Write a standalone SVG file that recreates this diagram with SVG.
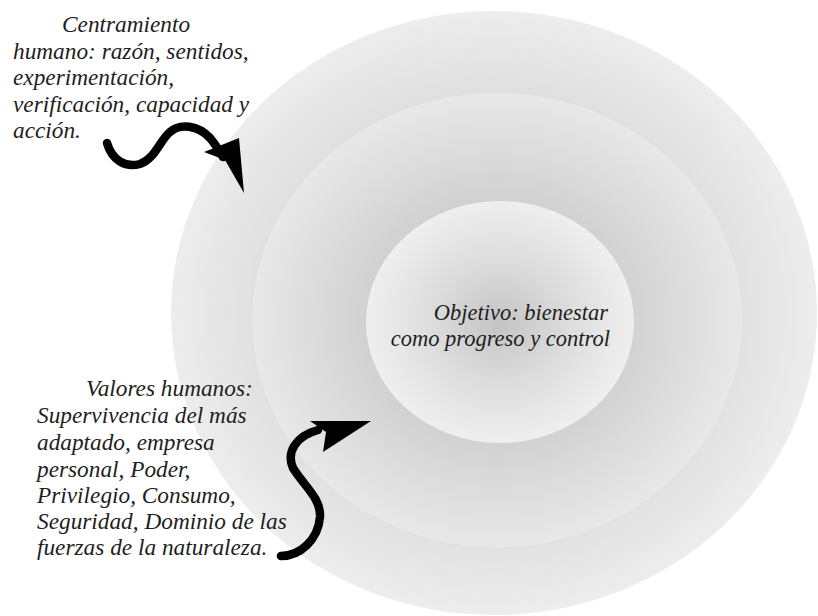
<svg xmlns="http://www.w3.org/2000/svg" width="818" height="616" viewBox="0 0 818 616">
<defs>
<radialGradient id="gOuter" cx="0.5" cy="0.5" r="0.5">
<stop offset="0" stop-color="#c8c8c8"/>
<stop offset="0.7" stop-color="#dedede"/>
<stop offset="1" stop-color="#ededed"/>
</radialGradient>
<radialGradient id="gMid" cx="0.5" cy="0.5" r="0.5">
<stop offset="0" stop-color="#bcbcbc"/>
<stop offset="0.55" stop-color="#d2d2d2"/>
<stop offset="1" stop-color="#e8e8e8"/>
</radialGradient>
<radialGradient id="gInner" cx="0.5" cy="0.5" r="0.5">
<stop offset="0" stop-color="#c4c4c4"/>
<stop offset="0.5" stop-color="#dcdcdc"/>
<stop offset="1" stop-color="#efefef"/>
</radialGradient>
</defs>
<style>
.arr{fill:none;stroke:#000;stroke-width:8.5;stroke-linecap:round;stroke-linejoin:round}
.head{fill:#000}
</style>
<rect width="818" height="616" fill="#ffffff"/>
<g id="outer"><ellipse cx="494" cy="313" rx="323" ry="302" fill="url(#gOuter)"/></g>
<g id="middle"><ellipse cx="497" cy="320" rx="245" ry="227" fill="url(#gMid)"/></g>
<g font-family="Liberation Serif, Times New Roman, serif" font-style="italic" font-size="23.3" fill="#1e1e1e">
<g id="inner">
<ellipse cx="500" cy="322" rx="134" ry="121" fill="url(#gInner)"/>
<text text-anchor="end" font-size="22.5"><tspan x="608" y="320">Objetivo: bienestar</tspan><tspan x="610" y="346">como progreso y control</tspan></text>
</g>
<g id="label-top">
<text><tspan x="62" y="32">Centramiento</tspan><tspan x="13" y="58.5">humano: razón, sentidos,</tspan><tspan x="13" y="85">experimentación,</tspan><tspan x="13" y="111.5">verificación, capacidad y</tspan><tspan x="13" y="138">acción.</tspan></text>
</g>
<g id="label-bottom">
<text><tspan x="86" y="396">Valores humanos:</tspan><tspan x="37" y="423">Supervivencia del más</tspan><tspan x="37" y="450">adaptado, empresa</tspan><tspan x="37" y="477">personal, Poder,</tspan><tspan x="37" y="503">Privilegio, Consumo,</tspan><tspan x="37" y="529">Seguridad, Dominio de las</tspan><tspan x="37" y="555">fuerzas de la naturaleza.</tspan></text>
</g>
</g>
<g id="connectors">
<path class="arr" d="M107,143 C112,160 125,168 140,164 C155,159 160,140 170,132 C180,123 198,125 210,138 C216,145 220,152 223,157"/>
<polygon class="head" points="204,152 239,138 244,193 225,160"/>
<path class="arr" d="M281,556 C300,556 318,540 320,517 C321,498 304,486 293,468 C286,452 296,436 318,430"/>
<polygon class="head" points="310,421 371,421 323,452 326,432"/>
</g>
</svg>
